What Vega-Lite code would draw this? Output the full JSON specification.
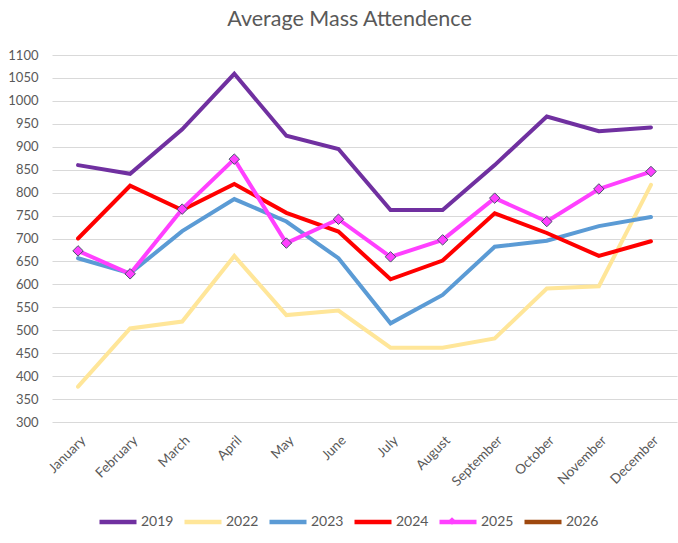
{
  "$schema": "https://vega.github.io/schema/vega-lite/v6.json",
  "width": 625,
  "height": 367,
  "autosize": {"type": "none"},
  "padding": {"left": 52, "top": 55, "right": 1, "bottom": 121},
  "background": "white",
  "config": {
    "font": "Lato",
    "view": {"stroke": null},
    "axis": {"labelFont": "Lato", "labelColor": "#595959", "labelFontSize": 13}
  },
  "title": {"text": "Average Mass Attendence", "fontSize": 21.5, "fontWeight": "normal", "color": "#595959", "font": "Lato", "offset": 19, "frame": "group", "dx": -15},
  "data": {"values": [
    {"month": "January", "year": "2019", "value": 860},
    {"month": "February", "year": "2019", "value": 841},
    {"month": "March", "year": "2019", "value": 938},
    {"month": "April", "year": "2019", "value": 1059},
    {"month": "May", "year": "2019", "value": 924},
    {"month": "June", "year": "2019", "value": 895},
    {"month": "July", "year": "2019", "value": 762},
    {"month": "August", "year": "2019", "value": 762},
    {"month": "September", "year": "2019", "value": 860},
    {"month": "October", "year": "2019", "value": 966},
    {"month": "November", "year": "2019", "value": 934},
    {"month": "December", "year": "2019", "value": 942},
    {"month": "January", "year": "2022", "value": 377},
    {"month": "February", "year": "2022", "value": 504},
    {"month": "March", "year": "2022", "value": 519},
    {"month": "April", "year": "2022", "value": 662},
    {"month": "May", "year": "2022", "value": 533},
    {"month": "June", "year": "2022", "value": 543},
    {"month": "July", "year": "2022", "value": 462},
    {"month": "August", "year": "2022", "value": 462},
    {"month": "September", "year": "2022", "value": 482},
    {"month": "October", "year": "2022", "value": 591},
    {"month": "November", "year": "2022", "value": 596},
    {"month": "December", "year": "2022", "value": 817},
    {"month": "January", "year": "2023", "value": 657},
    {"month": "February", "year": "2023", "value": 624},
    {"month": "March", "year": "2023", "value": 716},
    {"month": "April", "year": "2023", "value": 786},
    {"month": "May", "year": "2023", "value": 737},
    {"month": "June", "year": "2023", "value": 657},
    {"month": "July", "year": "2023", "value": 515},
    {"month": "August", "year": "2023", "value": 577},
    {"month": "September", "year": "2023", "value": 682},
    {"month": "October", "year": "2023", "value": 695},
    {"month": "November", "year": "2023", "value": 727},
    {"month": "December", "year": "2023", "value": 747},
    {"month": "January", "year": "2024", "value": 700},
    {"month": "February", "year": "2024", "value": 815},
    {"month": "March", "year": "2024", "value": 762},
    {"month": "April", "year": "2024", "value": 819},
    {"month": "May", "year": "2024", "value": 756},
    {"month": "June", "year": "2024", "value": 715},
    {"month": "July", "year": "2024", "value": 611},
    {"month": "August", "year": "2024", "value": 652},
    {"month": "September", "year": "2024", "value": 755},
    {"month": "October", "year": "2024", "value": 712},
    {"month": "November", "year": "2024", "value": 662},
    {"month": "December", "year": "2024", "value": 694},
    {"month": "January", "year": "2025", "value": 673},
    {"month": "February", "year": "2025", "value": 623},
    {"month": "March", "year": "2025", "value": 764},
    {"month": "April", "year": "2025", "value": 873},
    {"month": "May", "year": "2025", "value": 690},
    {"month": "June", "year": "2025", "value": 742},
    {"month": "July", "year": "2025", "value": 660},
    {"month": "August", "year": "2025", "value": 697},
    {"month": "September", "year": "2025", "value": 788},
    {"month": "October", "year": "2025", "value": 737},
    {"month": "November", "year": "2025", "value": 808},
    {"month": "December", "year": "2025", "value": 846}
  ]},
  "encoding": {
    "x": {
      "field": "month", "type": "nominal",
      "sort": ["January","February","March","April","May","June","July","August","September","October","November","December"],
      "scale": {"type": "point", "padding": 0.5},
      "axis": {"title": null, "labelAngle": -45, "domain": false, "ticks": false, "grid": false, "labelFontSize": 13.5, "labelPadding": 11}
    },
    "y": {
      "field": "value", "type": "quantitative",
      "scale": {"domain": [300, 1100], "nice": false, "zero": false},
      "axis": {"title": null, "format": "d", "values": [300,350,400,450,500,550,600,650,700,750,800,850,900,950,1000,1050,1100], "domain": false, "ticks": false, "gridColor": "#d9d9d9", "gridWidth": 1, "labelPadding": 14}
    }
  },
  "layer": [
    {
      "mark": {"type": "line", "strokeWidth": 4, "strokeJoin": "miter", "strokeCap": "round"},
      "encoding": {
        "color": {
          "field": "year", "type": "nominal",
          "scale": {"domain": ["2019","2022","2023","2024","2025","2026"], "range": ["#7030A0","#FFE699","#5B9BD5","#FF0000","#FF40FF","#9E480E"]},
          "legend": {"title": null, "orient": "none", "legendX": 45, "legendY": 446, "direction": "horizontal", "symbolType": "stroke", "symbolStrokeWidth": 4.5, "symbolSize": 1369, "labelFontSize": 14, "labelColor": "#595959", "labelFont": "Lato", "columnPadding": 1, "labelOffset": 2}
        }
      }
    },
    {
      "transform": [{"filter": "datum.year === '2025'"}],
      "mark": {"type": "point", "shape": "diamond", "filled": true, "fill": "#FF40FF", "stroke": "#44546A", "strokeWidth": 1, "size": 110, "opacity": 1},
      "encoding": {
        "shape": {
          "field": "year", "type": "nominal",
          "scale": {"domain": ["2025"], "range": ["diamond"]},
          "legend": {"title": null, "orient": "none", "legendX": 395, "legendY": 461, "symbolFillColor": "#FF40FF", "symbolStrokeColor": "#44546A", "symbolStrokeWidth": 1, "symbolSize": 60, "labelExpr": "''", "symbolOpacity": 1}
        }
      }
    }
  ]
}
